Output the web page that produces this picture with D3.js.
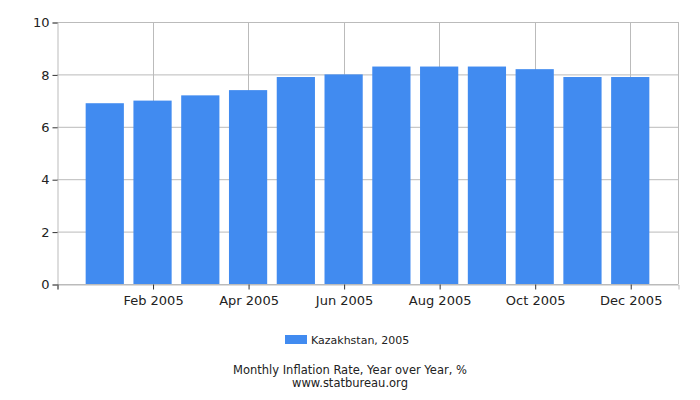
<!DOCTYPE html>
<html>
<head>
<meta charset="utf-8">
<script src="https://cdn.jsdelivr.net/npm/d3@7"></script>
<style>
  body { margin: 0; background: #fff; }
  text { font-family: "DejaVu Sans", sans-serif; }
</style>
</head>
<body>
<div id="chart"></div>
<script>
// monthly yoy inflation, Kazakhstan 2005
var months = ["Jan 2005", "Feb 2005", "Mar 2005", "Apr 2005", "May 2005", "Jun 2005",
              "Jul 2005", "Aug 2005", "Sep 2005", "Oct 2005", "Nov 2005", "Dec 2005"];
var values = [6.9, 7.0, 7.2, 7.4, 7.9, 8.0, 8.3, 8.3, 8.3, 8.2, 7.9, 7.9];
var yTicks = [0, 2, 4, 6, 8, 10];
var xTickLabels = ["Feb 2005", "Apr 2005", "Jun 2005", "Aug 2005", "Oct 2005", "Dec 2005"];

var data = months.map(function(m, i) { return {month: m, value: values[i]}; });

var margin = {top: 22, right: 22, bottom: 116, left: 57},
    width = 700 - margin.left - margin.right,
    height = 400 - margin.top - margin.bottom;

var svg = d3.select("#chart")
  .append("svg")
    .attr("width", 700)
    .attr("height", 400);

var g = svg.append("g")
    .attr("transform", "translate(" + margin.left + "," + margin.top + ")");

// one empty slot on each side, months sit on slot 1..12
var x = d3.scaleLinear()
    .domain([0, months.length + 1])
    .range([0, width]);
var step = x(1) - x(0);
var barW = step * 0.8;

var y = d3.scaleLinear()
    .domain([0, 10])
    .range([height, 0]);

// grid
g.selectAll("hgrid")
  .data(yTicks)
  .enter()
  .append("line")
    .attr("x1", 0)
    .attr("x2", width)
    .attr("y1", function(d) { return y(d) + 0.5; })
    .attr("y2", function(d) { return y(d) + 0.5; })
    .attr("stroke", "#bbbbbb");

g.selectAll("vgrid")
  .data(xTickLabels)
  .enter()
  .append("line")
    .attr("x1", function(d) { return Math.round(x(months.indexOf(d) + 1)) + 0.5; })
    .attr("x2", function(d) { return Math.round(x(months.indexOf(d) + 1)) + 0.5; })
    .attr("y1", 0)
    .attr("y2", height)
    .attr("stroke", "#bbbbbb");

g.append("line")
    .attr("x1", width + 0.5).attr("x2", width + 0.5)
    .attr("y1", 0).attr("y2", height)
    .attr("stroke", "#bbbbbb");

// bars
g.selectAll("bar")
  .data(data)
  .enter()
  .append("rect")
    .attr("x", function(d, i) { return x(i + 1) - barW / 2; })
    .attr("width", barW)
    .attr("y", function(d) { return y(d.value); })
    .attr("height", function(d) { return height - y(d.value); })
    .style("fill", "#418bf0");

// y axis
var yAxis = g.append("g")
    .attr("transform", "translate(0.5,0.5)")
    .call(d3.axisLeft(y).tickValues(yTicks).tickSize(5).tickPadding(3));
yAxis.select(".domain").attr("stroke", "#bbbbbb");
yAxis.selectAll(".tick line").attr("stroke", "#333");
yAxis.selectAll("text").style("font-size", "13px").attr("fill", "#222");

// x axis
var xTickPos = [0].concat(xTickLabels.map(function(d) { return months.indexOf(d) + 1; }));
var xAxis = g.append("g")
    .attr("transform", "translate(0.5," + (height + 0.5) + ")")
    .call(d3.axisBottom(x)
      .tickValues(xTickPos)
      .tickSize(5)
      .tickPadding(6)
      .tickFormat(function(d) { return d === 0 ? "" : months[d - 1]; }));
xAxis.select(".domain").attr("stroke", "#bbbbbb");
xAxis.selectAll(".tick line").attr("stroke", "#333");
xAxis.selectAll("text").style("font-size", "13px").attr("fill", "#222");

// legend
var legend = svg.append("g").attr("transform", "translate(285,335)");
legend.append("rect")
    .attr("width", 22).attr("height", 9)
    .style("fill", "#418bf0");
legend.append("text")
    .attr("x", 26).attr("y", 9)
    .style("font-size", "11px")
    .attr("fill", "#222")
    .text("Kazakhstan, 2005");

// footer
svg.append("text")
    .attr("x", 350).attr("y", 374)
    .attr("text-anchor", "middle")
    .style("font-size", "11.5px")
    .attr("fill", "#222")
    .text("Monthly Inflation Rate, Year over Year, %");
svg.append("text")
    .attr("x", 350).attr("y", 387)
    .attr("text-anchor", "middle")
    .style("font-size", "11.5px")
    .attr("fill", "#222")
    .text("www.statbureau.org");
</script>
</body>
</html>
